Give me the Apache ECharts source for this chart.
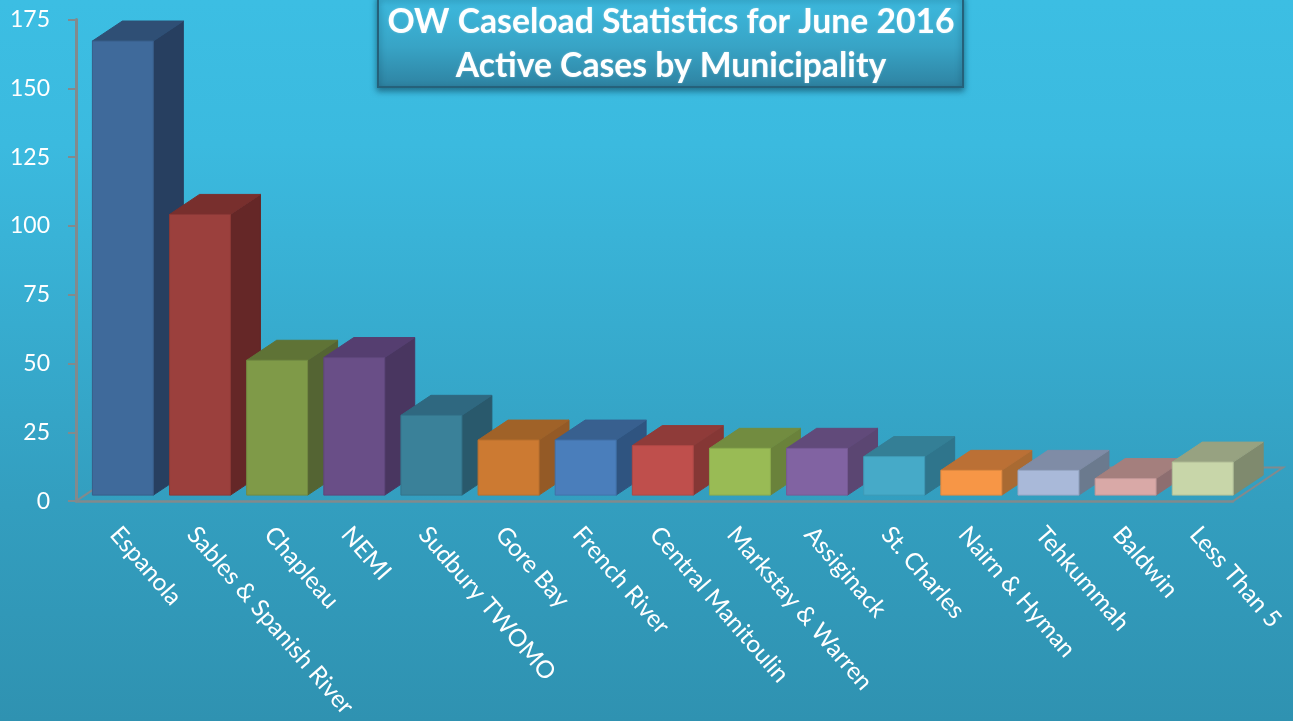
<!DOCTYPE html>
<html><head><meta charset="utf-8">
<style>html,body{margin:0;padding:0;width:1293px;height:721px;overflow:hidden}#c{width:1293px;height:721px}</style>
<script src="https://cdn.jsdelivr.net/npm/echarts@6/dist/echarts.min.js"></script>
</head><body><div id="c"></div>
<script>
const categories = ["Espanola","Sables & Spanish River","Chapleau","NEMI","Sudbury TWOMO","Gore Bay","French River","Central Manitoulin","Markstay & Warren","Assiginack","St. Charles","Nairn & Hyman","Tehkummah","Baldwin","Less Than 5"];
const activeCases = [165,102,49,50,29,20,20,18,17,17,14,9,9,6,12];
const yTicks = {min:0,max:175,interval:25};
const frontColors = ["#3f6a9b","#9b403d","#7f9a48","#694e87","#3a8199","#cc7a32","#4a7ebb","#bf4f4c","#99bb55","#8163a2","#46aac8","#f79646","#a9b9d9","#d9a9a7","#c8d6a9"];
const sideColors  = ["#273f60","#652727","#546433","#493660","#29596c","#945a26","#2f5480","#853735","#6a823b","#5b4672","#2f758c","#a96a32","#6b7a8e","#8d6e70","#7f8a6e"];
const topColors   = ["#2f4f75","#782f2d","#5f7336","#553e70","#2f6880","#a06228","#38608f","#8f3b39","#728c40","#614a7a","#347f96","#bb7035","#7f8ca6","#a47f7d","#97a281"];
const FONT = 'Lato, "Open Sans", sans-serif';
const AXIS = '#828a8d';
const DEPTH = {x:30,y:20}, INSET = {x:8.3,y:6}, FLOOR = {x:50,y:33.5};

const chart = echarts.init(document.getElementById('c'),null,{renderer:'canvas'});
function poly(points,fill,stroke){
  return {type:'polygon',shape:{points},style:{fill,stroke:stroke||fill,lineWidth:1}};
}
chart.setOption({
  animation:false,
  backgroundColor:{type:'linear',x:0,y:0,x2:0,y2:1,colorStops:[
    {offset:0,color:'#3cbee3'},{offset:.2,color:'#3bbadf'},{offset:.7,color:'#339ebf'},{offset:1,color:'#2f92b1'}]},
  title:{text:'OW Caseload Statistics for June 2016\nActive Cases by Municipality',left:666,top:-5,textAlign:'center',
    textStyle:{color:'#fff',fontFamily:FONT,fontWeight:'bold',fontSize:33.7,lineHeight:44,textShadowColor:'rgba(255,255,255,.35)',textShadowBlur:2}},
  graphic:[{type:'rect',z:-1,zlevel:0,shape:{x:378,y:-4,width:585,height:91},
    style:{fill:{type:'linear',x:0,y:0,x2:0,y2:1,colorStops:[{offset:0,color:'#3dbbe0'},{offset:.55,color:'#38a4c6'},{offset:1,color:'#2e82a1'}]},
      stroke:'#25617a',lineWidth:2,shadowColor:'rgba(10,50,70,.55)',shadowBlur:6,shadowOffsetY:3}}],
  grid:{left:76,right:60,top:19.5,bottom:219.5},
  xAxis:{type:'category',data:categories,boundaryGap:true,
    axisLine:{show:true,lineStyle:{color:AXIS,width:2.5}},axisTick:{show:false},splitLine:{show:false},
    axisLabel:{interval:0,rotate:-49,margin:29,color:'#fff',fontFamily:FONT,fontSize:24.2}},
  yAxis:{type:'value',min:yTicks.min,max:yTicks.max,interval:yTicks.interval,splitLine:{show:false},
    axisLine:{show:true,lineStyle:{color:AXIS,width:3}},axisTick:{show:true,length:8,lineStyle:{color:AXIS,width:2}},
    axisLabel:{margin:26,color:'#fff',fontFamily:FONT,fontSize:23,padding:[3,0,0,0]}},
  series:[
    {type:'custom',name:'floor',z:1,data:[[0,0]],silent:true,encode:{x:0,y:1},
     renderItem(p,api){
       const c=p.coordSys, b=c.y+c.height, l=c.x, r=c.x+c.width;
       return {type:'polyline',shape:{points:[[l,b],[l+FLOOR.x,b-FLOOR.y],[r+FLOOR.x,b-FLOOR.y],[r,b]]},
         style:{fill:'none',stroke:AXIS,lineWidth:2}};
     }},
    {type:'custom',name:'Active Cases',z:2,silent:true,encode:{x:0,y:1},clip:false,
     data:activeCases.map((v,i)=>[i,v]),
     renderItem(p,api){
       const i=api.value(0), t=api.coord([i,api.value(1)]), o=api.coord([i,0]);
       const w=api.size([1,0])[0]*0.79;
       const x0=t[0]-w/2+INSET.x, x1=x0+w, yT=t[1]-INSET.y, yB=o[1]-INSET.y;
       const dx=DEPTH.x, dy=DEPTH.y;
       const edge=echarts.color.lerp(0.3,[frontColors[i],sideColors[i]]);
       return {type:'group',children:[
         poly([[x1,yT],[x1+dx,yT-dy],[x1+dx,yB-dy],[x1,yB]],sideColors[i]),
         poly([[x0,yT],[x0+dx,yT-dy],[x1+dx,yT-dy],[x1,yT]],topColors[i]),
         poly([[x0,yT],[x1,yT],[x1,yB],[x0,yB]],frontColors[i],edge)
       ]};
     }}
  ]
});
</script></body></html>
